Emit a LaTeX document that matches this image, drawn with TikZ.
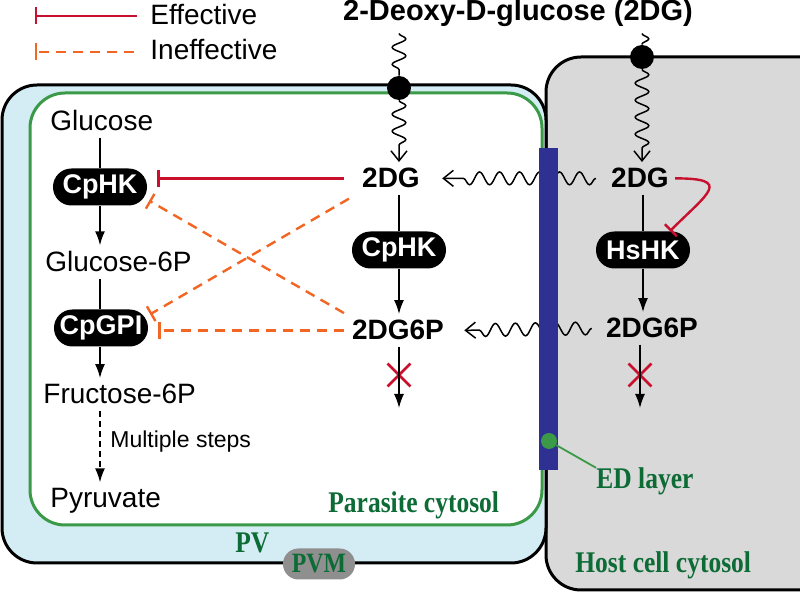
\documentclass[tikz,border=0pt]{standalone}
\usepackage{fontspec}
\setmainfont{Liberation Sans}
\newfontfamily\cellfont[FakeStretch=0.85]{Liberation Serif}
\usepackage{xcolor}
\usepackage{tikz}
\usetikzlibrary{calc,positioning,arrows.meta,shapes.misc,decorations.pathmorphing}

\definecolor{pvBlue}{HTML}{D4ECF3}
\definecolor{cytoGreen}{HTML}{3A9A47}
\definecolor{labelGreen}{HTML}{0D6B36}
\definecolor{hostGray}{HTML}{D9D9D9}
\definecolor{edBlue}{HTML}{2E3192}
\definecolor{effRed}{HTML}{C8102E}
\definecolor{ineffOrange}{HTML}{F26522}
\definecolor{pvmGray}{HTML}{8F8F8F}

\begin{document}
\begin{tikzpicture}[x=0.5pt, y=-0.5pt, node distance=2mm]
  % requires: \usetikzlibrary{calc,positioning,arrows.meta,shapes.misc,decorations.pathmorphing}
  \tikzset{
    titleText/.style={font=\fontsize{14.5}{16}\selectfont\bfseries, inner sep=3pt},
    legendText/.style={font=\fontsize{14}{16}\selectfont, inner sep=0pt},
    metaText/.style={font=\fontsize{14}{16}\selectfont, inner sep=3pt},
    metaBold/.style={font=\fontsize{14}{16}\selectfont\bfseries, inner sep=3pt},
    stepText/.style={font=\fontsize{11.5}{13}\selectfont, inner sep=0pt},
    enzymePill/.style={rectangle, rounded corners=9.2pt, fill=black, text=white, font=\fontsize{13.5}{15}\selectfont\bfseries, minimum width=47pt, minimum height=18.5pt, inner sep=0pt},
    pvmPill/.style={rectangle, rounded corners=7.7pt, fill=pvmGray, text=labelGreen, font=\cellfont\fontsize{14}{16}\selectfont\bfseries, minimum width=36pt, minimum height=15.5pt, inner sep=0pt},
    cellLabel/.style={text=labelGreen, font=\cellfont\fontsize{15}{17}\selectfont\bfseries, inner sep=0pt},
    transporter/.style={circle, fill=black, minimum size=12pt, inner sep=0pt},
    edDotBox/.style={circle, fill=cytoGreen, minimum size=8pt, inner sep=0pt},
    blockMark/.style={cross out, draw=effRed, line width=1.4pt, minimum size=10pt, inner sep=0pt},
    rxnLine/.style={line width=0.75pt},
    rxnArrow/.style={line width=0.75pt, -{Latex[length=7pt,width=5pt]}},
    stepsArrow/.style={line width=0.75pt, dash pattern=on 3pt off 2pt, -{Latex[length=7pt,width=5pt]}},
    effLine/.style={draw=effRed, line width=1.2pt, -{Bar[width=8.5pt]}},
    ineffLine/.style={draw=ineffOrange, line width=1.2pt, dash pattern=on 5pt off 3.5pt, -{Bar[width=8.5pt]}},
    waveIn/.style={line width=0.75pt, decorate, decoration={snake, amplitude=3.4pt, segment length=8.5pt}},
    waveDown/.style={line width=0.75pt, -{Straight Barb[length=5pt,width=8pt]}, decorate, decoration={snake, amplitude=3.4pt, segment length=8.5pt, post length=6pt}},
    waveAcross/.style={line width=0.75pt, -{Straight Barb[length=5pt,width=8pt]}, decorate, decoration={snake, amplitude=3.2pt, segment length=10pt, post length=7pt}},
    hostCell/.style={fill=hostGray, draw=black, line width=1.5pt, rounded corners=17.5pt},
    pvSpace/.style={fill=pvBlue, draw=black, line width=1.5pt, rounded corners=17.5pt},
    parasiteCell/.style={fill=white, draw=cytoGreen, line width=1.5pt, rounded corners=17.5pt}
  }

  % --- Frame ---
  \useasboundingbox (0,0) rectangle (800,593);
  \clip (0,0) rectangle (800,593);

  % --- Compartments ---
  \draw[hostCell] (546,57) rectangle (860,590);
  \draw[pvSpace] (2,85) rectangle (546,563);
  \draw[parasiteCell] (30,93) rectangle (542,525);

  % --- Legend ---
  \coordinate (effA) at (35,16);
  \coordinate (effB) at (137,16);
  \draw[effLine] (effB) -- (effA);
  \node[legendText, anchor=base west] (effText) at (150,25) {Effective};
  \coordinate (inefA) at (35,52);
  \coordinate (inefB) at (134,52);
  \draw[ineffLine] (inefB) -- (inefA);
  \node[legendText, anchor=base west] (inefText) at (150,60) {Ineffective};

  % --- Title ---
  \node[titleText, anchor=base] (title) at (518,21) {2-Deoxy-D-glucose (2DG)};

  % --- Host column ---
  \node[transporter] (dotH) at (642,57) {};
  \node[metaBold, anchor=base] (dgH) at (640,188) {2DG};
  \node[enzymePill] (hshk) at (643,250) {HsHK};
  \node[metaBold, anchor=base] (dg6pH) at (652,338) {2DG6P};
  \node[blockMark] (stopH) at (640,375) {};
  \coordinate (endH) at (640,408);

  % --- Parasite column ---
  \node[transporter] (dotP) at (399,88) {};
  \node[metaBold, anchor=base] (dgP) at (391,188) {2DG};
  \node[enzymePill] (cphkP) at (399,250) {CpHK};
  \node[metaBold, anchor=base] (dg6pP) at (398,340) {2DG6P};
  \node[blockMark] (stopP) at (399,375) {};
  \coordinate (endP) at (399,408);

  % --- Glycolysis column ---
  \node[metaText, anchor=base west] (glc) at (44,131) {Glucose};
  \node[enzymePill] (cphkL) at (100,187) {CpHK};
  \node[metaText, anchor=base west] (g6p) at (39,272) {Glucose-6P};
  \node[enzymePill] (cpgpi) at (101,328) {CpGPI};
  \node[metaText, anchor=base west] (f6p) at (37,404) {Fructose-6P};
  \node[metaText, anchor=base west] (pyr) at (44,508) {Pyruvate};
  \node[stepText, anchor=base west] (steps) at (110,448) {Multiple steps};

  \draw[rxnLine] (glc.south -| cphkL) -- (cphkL);
  \draw[rxnArrow] (cphkL) -- (g6p.north -| cphkL);
  \draw[rxnLine] (g6p.south -| cphkL) -- (cphkL |- cpgpi.north);
  \draw[rxnArrow] (cphkL |- cpgpi.south) -- (f6p.north -| cphkL);
  \draw[stepsArrow] (f6p.south -| cphkL) -- (pyr.north -| cphkL);

  % uptake through the membranes
  \draw[waveIn] (title.south -| dotP) -- (dotP);
  \draw[waveDown] (dotP) -- (dgP.north -| dotP);
  \draw[waveIn] (title.south -| dotH) -- (dotH);
  \draw[waveDown] (dotH) -- (dgH.north -| dotH);

  % phosphorylation steps
  \draw[rxnLine] (dgP.south -| cphkP) -- (cphkP);
  \draw[rxnArrow] (cphkP) -- (dg6pP.north -| cphkP);
  \draw[rxnArrow] (dg6pP.south -| stopP) -- (endP);
  \draw[rxnLine] (dgH.south -| hshk) -- (hshk);
  \draw[rxnArrow] (hshk) -- (dg6pH.north -| hshk);
  \draw[rxnArrow] (dg6pH.south -| stopH) -- (endH);

  % host to parasite transfer (under the ED layer)
  \draw[waveAcross] ($(dgH.west)+(-9,0)$) -- ($(dgP.east)+(16,0)$);
  \draw[waveAcross] ($(dg6pH.west)+(-8,0)$) -- ($(dg6pP.east)+(14,0)$);

  % --- Inhibition ---
  \draw[effLine, shorten <=6pt, shorten >=5pt] (dgP.west) -- (dgP.west -| cphkL.east);
  \draw[ineffLine, shorten <=4pt, shorten >=1pt] (dgP.south west) -- (cpgpi.15);
  \draw[ineffLine, shorten <=1pt, shorten >=1pt] (dg6pP.north west) -- (cphkL.-15);
  \draw[ineffLine, shorten <=1pt, shorten >=5pt] (dg6pP.west) -- (dg6pP.west -| cpgpi.east);
  \draw[effLine] (dgH.east) .. controls +(58,0) and +(38,-38) .. (hshk.35);

  % --- ED layer ---
  \fill[edBlue] (539,148) rectangle (558,470);
  \node[edDotBox] (edDot) at (549,441) {};
  \node[cellLabel, anchor=base west] (edText) at (596,489) {ED layer};
  \draw[cytoGreen, line width=0.9pt] (edDot) -- (edText.north west);

  % --- Compartment labels ---
  \node[cellLabel, anchor=base west] (paraText) at (328,513) {Parasite cytosol};
  \node[cellLabel, anchor=base west] (pvText) at (235,553) {PV};
  \node[pvmPill] (pvm) at (319,564) {PVM};
  \node[cellLabel, anchor=base west] (hostText) at (575,573) {Host cell cytosol};

\end{tikzpicture}
\end{document}
